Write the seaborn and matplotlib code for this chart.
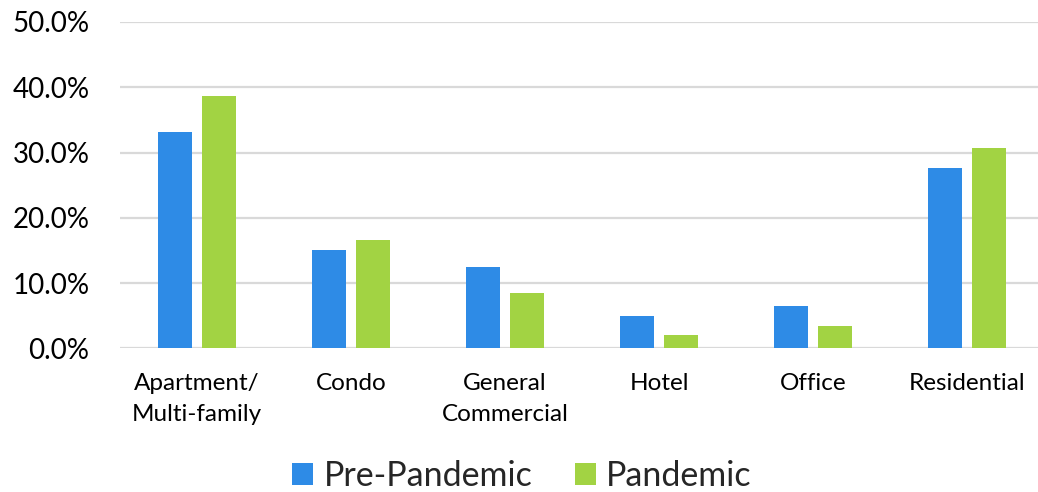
import matplotlib
matplotlib.use("Agg")
import matplotlib.pyplot as plt
from matplotlib.ticker import PercentFormatter
import seaborn as sns
import pandas as pd

# Share of projects by property type, before and during the pandemic (%)
categories = ["Apartment/\nMulti-family", "Condo", "General\nCommercial",
              "Hotel", "Office", "Residential"]
pre_pandemic = [33.1, 15.1, 12.5, 5.0, 6.5, 27.7]
pandemic = [38.6, 16.6, 8.5, 2.0, 3.4, 30.7]
series_names = ["Pre-Pandemic", "Pandemic"]
y_ticks = [0, 10, 20, 30, 40, 50]

df = pd.DataFrame({
    "category": categories * 2,
    "value": pre_pandemic + pandemic,
    "series": [series_names[0]] * len(categories) + [series_names[1]] * len(categories),
})

sns.set_theme(style="white")
plt.rcParams["font.family"] = ["Lato", "DejaVu Sans"]

W, H = 1038, 492
fig = plt.figure(figsize=(W / 100, H / 100), dpi=100)
ax = fig.add_axes([120 / W, (H - 348.3) / H, 924 / W, (348.3 - 22) / H])

sns.barplot(data=df, x="category", y="value", hue="series",
            palette=["#2E8BE6", "#A2D343"], saturation=1, width=0.57, gap=0.224,
            linewidth=0, ax=ax, legend=True)

ax.set_ylim(0, 50)
ax.set_xlim(-0.5, len(categories) - 0.5)
ax.set_yticks(y_ticks)
ax.yaxis.set_major_formatter(PercentFormatter(decimals=1))
ax.grid(axis="y", color="#D9D9D9", linewidth=1.6)
ax.set_axisbelow(True)
for s in ax.spines.values():
    s.set_visible(False)
ax.tick_params(axis="y", length=0, pad=22, labelsize=20, labelcolor="black")
ax.tick_params(axis="x", length=0, pad=18, labelsize=17.5, labelcolor="black")
for lbl in ax.get_xticklabels():
    lbl.set_linespacing(1.55)
ax.set_xlabel("")
ax.set_ylabel("")

handles, labels = ax.get_legend_handles_labels()
ax.get_legend().remove()
fig.legend(handles, labels, loc="center", bbox_to_anchor=(522 / W, (H - 476) / H),
           ncol=2, frameon=False, fontsize=24.5, handlelength=0.62,
           handleheight=0.62, handletextpad=0.3, columnspacing=1.25,
           borderpad=0.2)

fig.savefig("out.png", dpi=100)
